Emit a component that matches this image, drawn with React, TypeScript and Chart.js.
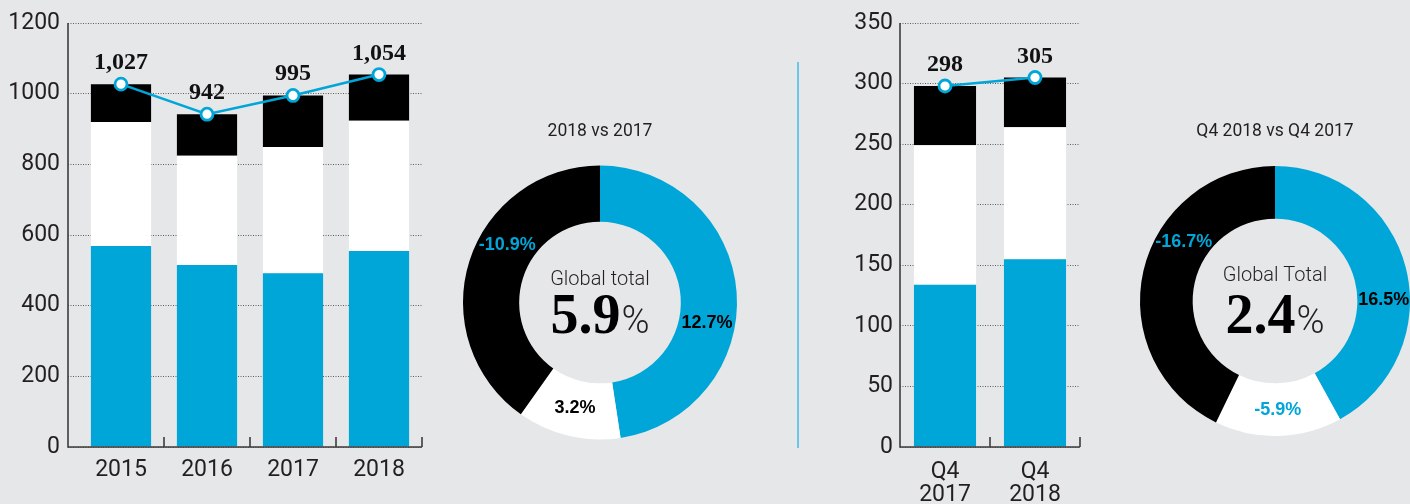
import React, { useEffect, useRef } from 'react';
import { Chart, registerables } from 'chart.js';

Chart.register(...registerables);

// ---------- data ----------
const yearLabels = ['2015', '2016', '2017', '2018'];
const yearBlue = [569, 515, 492, 555];
const yearWhite = [351, 309, 357, 368];
const yearBlack = [107, 118, 146, 131];
const yearTotal = [1027, 942, 995, 1054];
const yearTicks = [0, 200, 400, 600, 800, 1000, 1200];

const quarterLabels = [['Q4', '2017'], ['Q4', '2018']];
const quarterBlue = [134, 155];
const quarterWhite = [115, 109];
const quarterBlack = [49, 41];
const quarterTotal = [298, 305];
const quarterTicks = [0, 50, 100, 150, 200, 250, 300, 350];

const donutYearTitle = '2018 vs 2017';
const donutYearShares = [47.6, 12.2, 40.2];
const donutYearLabels = ['12.7%', '3.2%', '-10.9%'];
const donutYearCaption = 'Global total';
const donutYearValue = '5.9';

const donutQuarterTitle = 'Q4 2018 vs Q4 2017';
const donutQuarterShares = [42.0, 15.2, 42.8];
const donutQuarterLabels = ['16.5%', '-5.9%', '-16.7%'];
const donutQuarterCaption = 'Global Total';
const donutQuarterValue = '2.4';

// ---------- styles ----------
const BLUE = '#00a6d8';
const BG = '#e6e7e9';
const INK = '#231f20';
const GRID = '#5e5e5e';
const SANS = 'Roboto, "Liberation Sans", Arial, sans-serif';
const SERIF = '"Liberation Serif", "DejaVu Serif", serif';

const axisPlugin = (gap: number) => ({
  id: 'axisLines',
  afterDatasetsDraw(chart: any) {
    const { ctx, chartArea: a, scales } = chart;
    const xs = scales.x;
    const n = chart.data.labels.length;
    const half = (xs.getPixelForTick(1) - xs.getPixelForTick(0)) / 2;
    ctx.save();
    ctx.strokeStyle = '#3c3c3c';
    ctx.lineWidth = 1.6;
    ctx.beginPath();
    ctx.moveTo(a.left - gap, a.top);
    ctx.lineTo(a.left - gap, a.bottom);
    ctx.lineTo(a.right, a.bottom);
    for (let i = 0; i < n; i++) {
      const px = xs.getPixelForTick(i) + half;
      ctx.moveTo(px, a.bottom);
      ctx.lineTo(px, a.bottom - 10);
    }
    ctx.stroke();
    ctx.restore();
  },
});

const totalLabelPlugin = {
  id: 'totalLabels',
  afterDatasetsDraw(chart: any) {
    const { ctx } = chart;
    const meta = chart.getDatasetMeta(0);
    const data = chart.data.datasets[0].data;
    ctx.save();
    ctx.font = `bold 24px ${SERIF}`;
    ctx.fillStyle = '#111';
    ctx.textAlign = 'center';
    ctx.textBaseline = 'alphabetic';
    meta.data.forEach((pt: any, i: number) => {
      ctx.fillText(Number(data[i]).toLocaleString('en-US'), pt.x, pt.y - 15);
    });
    ctx.restore();
  },
};

function makeBarConfig(p: any) {
  const barCommon = {
    stack: 'parts',
    order: 1,
    barPercentage: p.barPct,
    categoryPercentage: 1,
    borderWidth: 0,
  };
  return {
    type: 'bar',
    data: {
      labels: p.labels,
      datasets: [
        {
          type: 'line',
          data: p.total,
          stack: 'total',
          order: 0,
          borderColor: BLUE,
          borderWidth: 2.5,
          pointRadius: 6,
          pointBackgroundColor: '#fff',
          pointBorderColor: BLUE,
          pointBorderWidth: 2.8,
          tension: 0,
        },
        { ...barCommon, data: p.blue, backgroundColor: BLUE },
        { ...barCommon, data: p.white, backgroundColor: '#ffffff' },
        { ...barCommon, data: p.black, backgroundColor: '#000000' },
      ],
    },
    options: {
      responsive: false,
      animation: false,
      devicePixelRatio: 1,
      events: [],
      layout: { padding: { top: 23, right: p.padRight, bottom: 0, left: 0 } },
      plugins: { legend: { display: false }, tooltip: { enabled: false }, title: { display: false } },
      scales: {
        x: {
          stacked: true,
          offset: true,
          grid: { display: false, drawTicks: false, tickLength: 0 },
          border: { display: false },
          ticks: {
            color: INK,
            font: { family: SANS, size: 23, weight: 400, lineHeight: 0.98 },
            padding: p.xPad,
            maxRotation: 0,
            autoSkip: false,
          },
          afterFit: (s: any) => {
            s.height = 57;
          },
        },
        y: {
          stacked: true,
          min: 0,
          max: p.ticks[p.ticks.length - 1],
          grid: {
            color: GRID,
            lineWidth: 1,
            drawTicks: p.axisGap > 0,
            tickLength: p.axisGap,
            tickColor: GRID,
            tickBorderDash: [1, 1.5],
          },
          border: { display: false, dash: [1, 1.5] },
          ticks: {
            color: INK,
            font: { family: SANS, size: 23, weight: 400 },
            padding: p.yPad,
            callback: (v: any) => String(v),
          },
          afterBuildTicks: (s: any) => {
            s.ticks = p.ticks.map((v: number) => ({ value: v }));
          },
          afterFit: (s: any) => {
            s.width = p.yWidth;
          },
        },
      },
    },
    plugins: [axisPlugin(p.axisGap), totalLabelPlugin],
  };
}

const donutLabelPlugin = (texts: string[], colors: string[], shiftDeg: number[]) => ({
  id: 'donutLabels',
  afterDatasetsDraw(chart: any) {
    const { ctx } = chart;
    const arcs = chart.getDatasetMeta(0).data;
    ctx.save();
    ctx.font = `bold 18px "Liberation Sans", Arial, sans-serif`;
    ctx.textAlign = 'center';
    ctx.textBaseline = 'middle';
    arcs.forEach((arc: any, i: number) => {
      const { x, y, startAngle, endAngle, innerRadius, outerRadius } = arc.getProps(
        ['x', 'y', 'startAngle', 'endAngle', 'innerRadius', 'outerRadius'],
        true
      );
      const ang = (startAngle + endAngle) / 2 + (shiftDeg[i] * Math.PI) / 180;
      const r = (innerRadius + outerRadius) / 2;
      ctx.fillStyle = colors[i];
      ctx.fillText(texts[i], x + Math.cos(ang) * r, y + Math.sin(ang) * r);
    });
    ctx.restore();
  },
});

const centerTextPlugin = (caption: string, value: string, capDy: number, valDy: number) => ({
  id: 'centerText',
  afterDatasetsDraw(chart: any) {
    const { ctx } = chart;
    const arc = chart.getDatasetMeta(0).data[0];
    const cx = arc.x;
    const cy = arc.y;
    ctx.save();
    ctx.fillStyle = INK;
    ctx.textBaseline = 'alphabetic';
    ctx.textAlign = 'center';
    ctx.font = `300 20px ${SANS}`;
    ctx.fillText(caption, cx, cy + capDy);
    const bigFont = `bold 56px ${SERIF}`;
    const pctFont = `300 38px ${SANS}`;
    ctx.font = bigFont;
    const w1 = ctx.measureText(value).width;
    ctx.font = pctFont;
    const w2 = ctx.measureText('%').width;
    const gap = 1;
    const start = cx - (w1 + gap + w2) / 2;
    ctx.textAlign = 'left';
    ctx.font = bigFont;
    ctx.fillStyle = '#000';
    ctx.fillText(value, start, cy + valDy);
    ctx.font = pctFont;
    ctx.fillStyle = INK;
    ctx.fillText('%', start + w1 + gap, cy + valDy);
    ctx.restore();
  },
});

function makeDonutConfig(p: any) {
  return {
    type: 'doughnut',
    data: {
      labels: p.labels,
      datasets: [
        {
          data: p.shares,
          backgroundColor: [BLUE, '#ffffff', '#000000'],
          borderWidth: 0,
        },
      ],
    },
    options: {
      responsive: false,
      animation: false,
      devicePixelRatio: 1,
      events: [],
      cutout: p.cutout,
      layout: { padding: p.pad },
      plugins: {
        legend: { display: false },
        tooltip: { enabled: false },
        title: {
          display: true,
          text: p.title,
          color: INK,
          font: { family: SANS, size: 17.5, weight: 400, lineHeight: 1.2 },
          padding: { top: 0, bottom: 23 },
        },
      },
    },
    plugins: [
      donutLabelPlugin(p.labels, p.labelColors, p.shift),
      centerTextPlugin(p.caption, p.value, p.capDy, p.valDy),
    ],
  };
}

function ChartBox({ make, left, top, width, height }: any) {
  const ref = useRef<HTMLCanvasElement>(null);
  useEffect(() => {
    const chart = new Chart(ref.current as HTMLCanvasElement, make());
    return () => chart.destroy();
  }, []);
  return (
    <canvas
      ref={ref}
      width={width}
      height={height}
      style={{ position: 'absolute', left, top, width, height }}
    />
  );
}

export default function App() {
  return (
    <div
      style={{
        position: 'fixed',
        left: 0,
        top: 0,
        width: 1410,
        height: 504,
        background: BG,
        overflow: 'hidden',
      }}
    >
      <ChartBox
        left={0}
        top={0}
        width={440}
        height={504}
        make={() =>
          makeBarConfig({
            labels: yearLabels,
            blue: yearBlue,
            white: yearWhite,
            black: yearBlack,
            total: yearTotal,
            ticks: yearTicks,
            axisGap: 10,
            yWidth: 78,
            yPad: 8,
            xPad: 12,
            padRight: 18,
            barPct: 0.7,
          })
        }
      />
      <ChartBox
        left={440}
        top={100}
        width={320}
        height={360}
        make={() =>
          makeDonutConfig({
            title: donutYearTitle,
            shares: donutYearShares,
            labels: donutYearLabels,
            labelColors: ['#000', '#000', BLUE],
            shift: [15, 0, 14],
            caption: donutYearCaption,
            value: donutYearValue,
            capDy: -18,
            valDy: 30,
            cutout: '59%',
            pad: { left: 23, right: 23, top: 21, bottom: 20 },
          })
        }
      />
      <div
        style={{
          position: 'absolute',
          left: 797,
          top: 62,
          width: 2,
          height: 386,
          background: '#6ec6e6',
        }}
      />
      <ChartBox
        left={800}
        top={0}
        width={300}
        height={504}
        make={() =>
          makeBarConfig({
            labels: quarterLabels,
            blue: quarterBlue,
            white: quarterWhite,
            black: quarterBlack,
            total: quarterTotal,
            ticks: quarterTicks,
            axisGap: 0,
            yWidth: 100,
            yPad: 7,
            xPad: 14,
            padRight: 20,
            barPct: 0.69,
          })
        }
      />
      <ChartBox
        left={1100}
        top={100}
        width={310}
        height={360}
        make={() =>
          makeDonutConfig({
            title: donutQuarterTitle,
            shares: donutQuarterShares,
            labels: donutQuarterLabels,
            labelColors: ['#000', BLUE, BLUE],
            shift: [14, 0, 20],
            caption: donutQuarterCaption,
            value: donutQuarterValue,
            capDy: -20,
            valDy: 32,
            cutout: '61%',
            pad: { left: 40, right: 0, top: 21, bottom: 23 },
          })
        }
      />
    </div>
  );
}
